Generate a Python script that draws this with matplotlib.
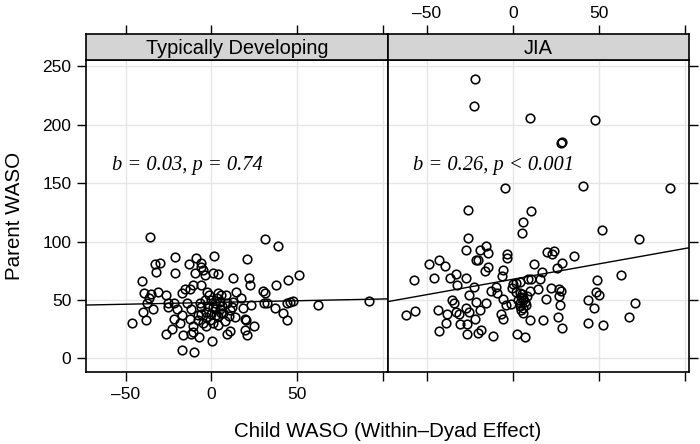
import numpy as np
import matplotlib
matplotlib.use('Agg')
import matplotlib.pyplot as plt

plt.rcParams['font.family'] = ['Liberation Sans', 'DejaVu Sans']

# ── Data ─────────────────────────────────────────────────────────────────────
PANELS = ['Typically Developing', 'JIA']

td_x = [-35.6, 31.3, 39, -21, -9, 1.4, 20.5, -33, -30, -13, -6, -5.8, -4.8,
        -9.7, -21, -32.5, 1.2, 3.9, -4, 12.6, 21.9, 51, -40.6, 44.3, 22.6,
        37.7, -10.6, -5.8, -15.5, -12.6, 30, 31, -39, -35.4, -31, -26.5, -17,
        -2.5, -1.3, 3.9, 5.8, 8.7, 14.5, 17.4, -36.4, -37.7, -25.5, -21.9,
        -14.5, -6.8, 1.9, 12.6, 23.2, 30.9, 32.5, 43.9, 45.5, 47.4, 62, 91.5,
        -39.7, -34, -25, -20, -11.6, -5.8, 1, 4.8, 10.6, 18.4, 36.8, 41.6,
        -22, -17.4, -12.6, -7.7, -2.9, 2.9, 5.8, 13.5, 19.3, 20.3, 44, -38.3,
        -46.4, -18.4, -10.6, -2.9, 3.9, 24.8, -23.2, -11, 10.6, 19.3, -26.7,
        -16.8, -12, -7.2, 9.3, 20.7, 0.6, -17.4, -10.3,
        -3, 0, 2, 4, -1, 6, -4, 3, 8, -6, 1, 5, -2, 7, -8, 9, -5, 0, 10, 12]
td_y = [104, 102, 96, 87, 86, 88, 85, 81, 82, 81, 82, 78, 75.5,
        73, 73, 73.5, 73, 72, 71, 69, 69, 71, 66, 67, 63,
        63, 62.7, 62.7, 59, 59, 58, 56, 55.5, 55, 57, 54, 55.5,
        57, 54, 56, 54, 54, 57, 52, 52, 47, 47.6, 47,
        47.6, 47, 47.6, 48.4, 45.6, 47.6, 47, 47.6, 48.4, 49, 45.6, 49,
        40, 42, 43.6, 42, 42, 43.6, 43.6, 42, 41.3, 42.7, 42.7, 39,
        34, 37, 34, 37, 35.6, 37, 38.5, 35.6, 34, 32.8, 32.8, 32.8,
        30, 30, 27.6, 27.6, 28.5, 27.6, 24.8, 22.5, 23.4, 24.2, 20.8,
        20, 20.8, 18, 20.8, 20, 15, 7, 5,
        40, 38, 42, 36, 33, 45, 50, 52, 32, 38, 30, 48, 45, 39, 33, 47, 30, 50, 36, 44]

jia_x = [-21.9, -22.8, 10, 48, 28, 28.6, -4.4, 41, 91.3, -26, 10.3, 5.8, 51.6,
         5.2, 73.5, -26, -27.5, -19.3, -15.5, -14.5, -21.3, -20.3, -3.5, -3.3,
         19.7, 24, 22.8, 35.4, -48.7, -43.3, -39.6, -14.5, -16.4, -5.8, -6.4,
         12.4, 16.8, 28.4, 25.7, -57.4, -46, -36.8, -33.3, -27.5, -32.3, -22.8,
         8.7, 10.6, 15.5, 0, 2, 3.9, -0.4, -9.7, -13, -9, -6, -4.3, -1, -25.5,
         -21.3, -15.5, -19.3, -35.4, -34.4, -43.5, -38.3, -33, -31.5, -27.5,
         -25.5, -22.2, -31, -27, -38.7, -43, -26.5, -20.3, -18.4, -11.6, -6.8,
         -5.8, -62, -57, 3.9, 4.8, 5.8, 3.9, 7.7, 4.8, 5.8, 9.7, 9.7, 14.5,
         19.3, 22.2, 26.7, 28, 27, 27.5, 26.5, 17.8, 28.4, 2.5, 6.8, 43.5,
         48.7, 48.4, 50.3, 47.4, 43.7, 52.6, 62.9, 71, 67.5,
         5, 6, 3, 7, 4, 6, 2, 8]
jia_y = [239, 216, 206, 204, 184.6, 185.3, 146, 148, 146, 127, 126, 117, 110,
         107, 102, 103, 93, 93, 96, 90, 84.6, 84, 89, 85.5,
         91, 92, 89, 88, 81, 84, 79, 78, 75, 76, 70.7,
         81, 74, 82, 77, 67, 69, 69, 72, 69, 63, 61,
         68, 67.5, 68, 63.5, 64.7, 65.5, 60, 61, 58, 55.6, 50.7, 45.6, 46.4, 54,
         48.4, 47.6, 41.3, 50, 47.6, 41.3, 38, 40, 37.6, 42.7,
         40, 34, 29, 29, 30, 23.4, 20.8, 21.4, 24.2, 19, 37.6,
         34, 36.8, 40.7, 55.6, 52.7, 50, 47, 45.6, 41.3, 38.5, 32.8, 58, 59,
         50.7, 60, 59, 57.5, 53, 46, 35.6, 32.8, 26.2, 20.8, 18, 50,
         67, 57, 54, 42.7, 30, 28.5, 71, 47, 35,
         55, 52, 50, 48, 45, 43, 57, 53]

# fitted within-dyad lines (intercept, slope)
FITS = [(47.8, 0.03), (67.7, 0.263)]
LABELS = ['b = 0.03, p = 0.74', 'b = 0.26, p < 0.001']

XLIM = (-73, 102.5)
YLIM = (-12, 255.5)
XTICKS = [-50, 0, 50, 100]
XTICKLABELS = ['\u201350', '0', '50', '']
YTICKS = [0, 50, 100, 150, 200, 250]

# ── Layout (pixel positions -> figure fractions) ─────────────────────────────
W, H = 700, 444
PANEL_X = [86, 387.5]
PANEL_W = 301.5
PANEL_TOP, PANEL_BOT = 60, 372.3
STRIP_TOP = 34

fig = plt.figure(figsize=(7, 4.44), dpi=100)

data = [(td_x, td_y), (jia_x, jia_y)]
for i, name in enumerate(PANELS):
    x0 = PANEL_X[i] / W
    ax = fig.add_axes([x0, 1 - PANEL_BOT / H, PANEL_W / W,
                       (PANEL_BOT - PANEL_TOP) / H])
    sx = fig.add_axes([x0, 1 - PANEL_TOP / H, PANEL_W / W,
                       (PANEL_TOP - STRIP_TOP) / H])

    xs, ys = data[i]
    ax.set_xlim(*XLIM)
    ax.set_ylim(*YLIM)
    for v in XTICKS:
        ax.axvline(v, color='#e6e6e6', lw=1.0, zorder=0)
    for v in YTICKS:
        ax.axhline(v, color='#e6e6e6', lw=1.0, zorder=0)

    ax.plot(xs, ys, 'o', mfc='none', mec='black', ms=6.2, mew=1.15, zorder=3)
    b0, b1 = FITS[i]
    lx = np.array(XLIM)
    ax.plot(lx, b0 + b1 * lx, color='black', lw=1.0, zorder=2)
    ax.text(-58, 165.5, LABELS[i], ha='left', va='center', fontsize=14.8,
            style='italic', family=['Liberation Serif', 'DejaVu Serif'])

    ax.set_xticks(XTICKS)
    ax.set_xticklabels(XTICKLABELS)
    ax.set_yticks(YTICKS)
    ax.tick_params(direction='out', length=6.5, width=1.0, labelsize=12.5,
                   top=False, right=(i == 1), left=(i == 0),
                   labelleft=(i == 0), labelright=False,
                   bottom=True, labelbottom=(i == 0), pad=4)
    for s in ax.spines.values():
        s.set_linewidth(1.2)

    # strip
    sx.set_facecolor('#d4d4d4')
    sx.set_xlim(*XLIM)
    sx.set_ylim(0, 1)
    sx.set_yticks([])
    sx.set_xticks(XTICKS)
    sx.set_xticklabels(XTICKLABELS)
    sx.tick_params(direction='out', length=6.5, width=1.0, labelsize=12.5,
                   bottom=False, labelbottom=False, top=True,
                   labeltop=(i == 1), pad=3)
    for s in sx.spines.values():
        s.set_linewidth(1.2)
    sx.text(0.5, 0.45, name, transform=sx.transAxes, ha='center',
            va='center', fontsize=14.4)

fig.text(388 / W, 1 - 431 / H, 'Child WASO (Within\u2013Dyad Effect)',
         ha='center', va='center', fontsize=14.8)
fig.text(15 / W, 1 - 216 / H, 'Parent WASO', rotation=90,
         ha='center', va='center', fontsize=14.8)

fig.savefig('out.png', dpi=100)
